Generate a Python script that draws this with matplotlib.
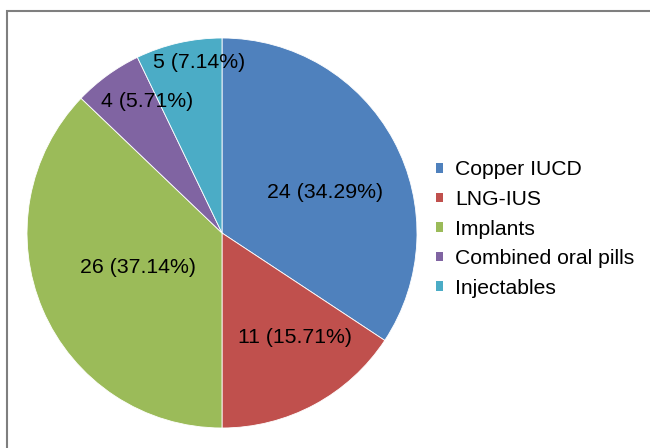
import matplotlib
matplotlib.use("Agg")
import numpy as np
import matplotlib.pyplot as plt
from matplotlib.patches import Rectangle, Patch

plt.rcParams['font.family'] = ['Liberation Sans', 'DejaVu Sans']

# datos del grafico
metodos = ['Copper IUCD', 'LNG-IUS', 'Implants', 'Combined oral pills', 'Injectables']
cuentas = [24, 11, 26, 4, 5]
etiquetas = ['24 (34.29%)', '11 (15.71%)', '26 (37.14%)', '4 (5.71%)', '5 (7.14%)']
colores = ['#4F81BD', '#C0504D', '#9BBB59', '#8064A2', '#4BACC6']
# posicion de cada etiqueta (en radios, respecto al centro)
pos_etiq = [(0.528, 0.210), (0.374, -0.538), (-0.431, -0.179), (-0.385, 0.672), (-0.118, 0.872)]

W, H = 650, 448
fig = plt.figure(figsize=(W / 100, H / 100), dpi=100)

# pie centrado en (222, 233) px con radio 195 px
cx, cy, r = 222, 233, 195
ax = fig.add_axes([(cx - r) / W, (H - cy - r) / H, 2 * r / W, 2 * r / H])
wedges, _ = ax.pie(cuentas, colors=colores, startangle=90, counterclock=False,
                   radius=1, wedgeprops=dict(linewidth=0.6, edgecolor='white'))
ax.set_xlim(-1, 1)
ax.set_ylim(-1, 1)

for txt, (x, y) in zip(etiquetas, pos_etiq):
    ax.text(x, y, txt, ha='center', va='center', fontsize=15.3, color='black')

# leyenda
handles = [Patch(facecolor=c, edgecolor='none') for c in colores]
fig.legend(handles, metodos, loc='center left', bbox_to_anchor=(436 / W, 1 - 229 / H),
           frameon=False, fontsize=15.2, handlelength=0.33, handleheight=0.33,
           handletextpad=0.57, labelspacing=0.5, borderpad=0, borderaxespad=0)

# marco del grafico
fig.patches.append(Rectangle((7 / W, -0.1), 2, (H - 11) / H + 0.1, transform=fig.transFigure,
                             fill=False, edgecolor='#7f7f7f', linewidth=1.5))

fig.savefig('out.png', dpi=100)
